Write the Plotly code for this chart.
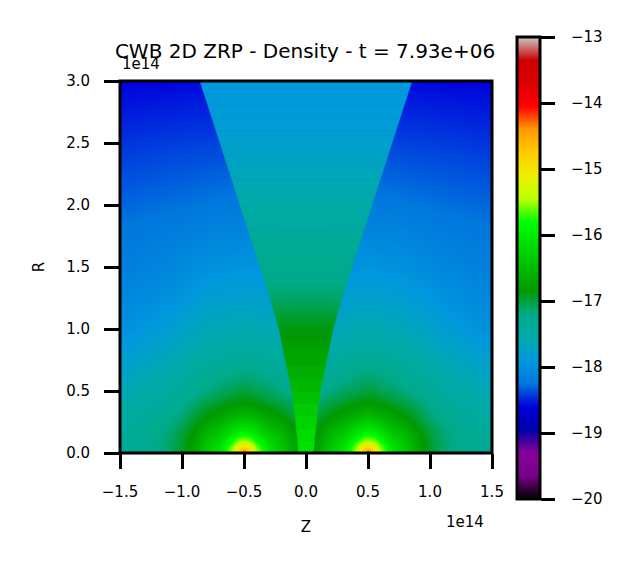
import plotly.graph_objects as go
from plotly.colors import sample_colorscale

z_right = [0, 0.1, 0.2, 0.3, 0.4, 0.45, 0.5, 0.55, 0.6, 0.7, 0.8, 0.9, 1.0, 1.1, 1.25, 1.5]
r_rows = [0, 0.05, 0.1, 0.15, 0.2, 0.3, 0.4, 0.5, 0.65, 0.8, 1.0, 1.25, 1.5, 2.0, 2.5, 3.0]

# wind field for Z >= 0, the left half of the picture is the mirror image
wind_rows = [
    [-16.95, -16.72, -16.35, -16.10, -15.45, -14.90, -14.00, -14.90, -15.45, -16.10, -16.35, -16.72, -16.95, -17.10, -17.25, -17.38],
    [-16.95, -16.73, -16.36, -16.13, -15.55, -15.15, -14.90, -15.15, -15.55, -16.13, -16.36, -16.73, -16.95, -17.10, -17.25, -17.38],
    [-16.97, -16.76, -16.42, -16.22, -15.80, -15.55, -15.45, -15.55, -15.80, -16.22, -16.42, -16.76, -16.97, -17.11, -17.26, -17.39],
    [-17.00, -16.80, -16.52, -16.36, -16.05, -15.90, -15.85, -15.90, -16.05, -16.36, -16.52, -16.80, -17.00, -17.13, -17.27, -17.40],
    [-17.04, -16.87, -16.63, -16.50, -16.22, -16.12, -16.10, -16.12, -16.22, -16.50, -16.63, -16.87, -17.04, -17.16, -17.29, -17.42],
    [-17.14, -17.00, -16.85, -16.75, -16.60, -16.55, -16.50, -16.55, -16.60, -16.75, -16.85, -17.00, -17.14, -17.24, -17.35, -17.48],
    [-17.25, -17.12, -17.02, -16.95, -16.88, -16.85, -16.83, -16.85, -16.88, -16.95, -17.02, -17.12, -17.25, -17.33, -17.43, -17.55],
    [-17.35, -17.25, -17.17, -17.10, -17.05, -17.02, -17.00, -17.02, -17.05, -17.10, -17.17, -17.25, -17.35, -17.42, -17.50, -17.62],
    [-17.48, -17.40, -17.33, -17.27, -17.22, -17.20, -17.20, -17.20, -17.22, -17.27, -17.33, -17.40, -17.48, -17.55, -17.62, -17.75],
    [-17.60, -17.53, -17.48, -17.44, -17.41, -17.40, -17.40, -17.40, -17.41, -17.44, -17.48, -17.53, -17.60, -17.67, -17.73, -17.85],
    [-17.75, -17.70, -17.65, -17.62, -17.59, -17.58, -17.58, -17.58, -17.59, -17.62, -17.65, -17.70, -17.75, -17.82, -17.88, -18.00],
    [-17.92, -17.87, -17.83, -17.80, -17.79, -17.78, -17.78, -17.78, -17.79, -17.80, -17.83, -17.87, -17.92, -17.97, -18.02, -18.10],
    [-18.06, -18.02, -17.99, -17.97, -17.96, -17.95, -17.95, -17.95, -17.96, -17.97, -17.99, -18.02, -18.06, -18.09, -18.12, -18.17],
    [-18.26, -18.25, -18.24, -18.23, -18.22, -18.22, -18.22, -18.22, -18.22, -18.23, -18.24, -18.25, -18.26, -18.27, -18.28, -18.30],
    [-18.42, -18.41, -18.41, -18.40, -18.40, -18.40, -18.40, -18.40, -18.40, -18.40, -18.41, -18.41, -18.42, -18.42, -18.43, -18.45],
    [-18.58, -18.58, -18.58, -18.58, -18.58, -18.58, -18.58, -18.58, -18.58, -18.58, -18.58, -18.58, -18.58, -18.59, -18.59, -18.60],
]

# shocked cone between the two winds: height, half width, log density
cone_r = [0, 0.1, 0.2, 0.3, 0.4, 0.5, 0.6, 0.7, 0.8, 0.85, 0.9, 0.95, 1.0, 1.05, 1.1, 1.15, 1.2, 1.25, 1.3, 1.35, 1.4, 1.45, 1.5,
          1.6, 1.7, 1.8, 1.9, 2.0, 2.1, 2.2, 2.3, 2.4, 2.5, 2.6, 2.7, 2.8, 2.9, 3.0]
cone_width = [0.06, 0.067, 0.078, 0.088, 0.10, 0.115, 0.135, 0.155, 0.178, 0.188, 0.197, 0.207, 0.218, 0.231, 0.245, 0.26, 0.275, 0.29, 0.305, 0.321, 0.338, 0.354, 0.37,
              0.402, 0.435, 0.467, 0.499, 0.532, 0.564, 0.596, 0.629, 0.661, 0.693, 0.726, 0.758, 0.79, 0.823, 0.855]
cone_rho = [-16.05, -16.12, -16.2, -16.3, -16.4, -16.5, -16.6, -16.68, -16.75, -16.78, -16.82, -16.85, -16.88, -16.92, -16.97, -17.02, -17.07, -17.11, -17.15, -17.18, -17.2, -17.23, -17.25,
            -17.3, -17.35, -17.4, -17.45, -17.5, -17.55, -17.62, -17.68, -17.74, -17.78, -17.82, -17.85, -17.87, -17.89, -17.91]

axis_ticks_z = [-1.5, -1.0, -0.5, 0.0, 0.5, 1.0, 1.5]
axis_ticks_r = [0.0, 0.5, 1.0, 1.5, 2.0, 2.5, 3.0]
bar_ticks = [-20, -19, -18, -17, -16, -15, -14, -13]

# same stops as nipy_spectral
spectral = [
    [0.00, "rgb(0,0,0)"], [0.05, "rgb(119,0,136)"], [0.10, "rgb(136,0,153)"],
    [0.15, "rgb(0,0,170)"], [0.20, "rgb(0,0,221)"], [0.25, "rgb(0,119,221)"],
    [0.30, "rgb(0,153,221)"], [0.35, "rgb(0,170,170)"], [0.40, "rgb(0,170,136)"],
    [0.45, "rgb(0,153,0)"], [0.50, "rgb(0,187,0)"], [0.55, "rgb(0,221,0)"],
    [0.60, "rgb(0,255,0)"], [0.65, "rgb(187,255,0)"], [0.70, "rgb(238,238,0)"],
    [0.75, "rgb(255,204,0)"], [0.80, "rgb(255,153,0)"], [0.85, "rgb(255,0,0)"],
    [0.90, "rgb(221,0,0)"], [0.95, "rgb(204,0,0)"], [1.00, "rgb(204,204,204)"],
]
rho_min, rho_max = -20, -13

FONT = "DejaVu Sans"
# the page body adds 8px on the left and top
PAGE_PAD = 8
WIDTH, HEIGHT = 624, 557
LEFT, RIGHT, TOP, BOTTOM = 112, 140, 73, 112
SIDE = 372
PLOT_X0, PLOT_Y1 = 120, 453
BAR_LEN = 462
BAR_MID = 268

z_all = [-v for v in z_right[:0:-1]] + z_right
wind = [row[:0:-1] + row for row in wind_rows]

fig = go.Figure()

fig.add_trace(go.Heatmap(
    x=z_all,
    y=r_rows,
    z=wind,
    zmin=rho_min,
    zmax=rho_max,
    zsmooth="best",
    colorscale=spectral,
    colorbar=dict(
        lenmode="pixels",
        len=BAR_LEN,
        thicknessmode="pixels",
        thickness=23,
        xpad=0,
        ypad=0,
        x=(517 - PLOT_X0) / SIDE,
        xanchor="left",
        y=(PLOT_Y1 - BAR_MID) / SIDE,
        yanchor="middle",
        outlinecolor="black",
        outlinewidth=3,
        tickmode="array",
        tickvals=bar_ticks,
        ticks="outside",
        ticklen=14,
        tickwidth=3,
        tickcolor="black",
        showticklabels=False,
    ),
))

# the cone has a sharp edge, so it goes on top as one band per height
for i in range(len(cone_r) - 1):
    level = (cone_rho[i] + cone_rho[i + 1]) / 2
    color = sample_colorscale(spectral, (level - rho_min) / (rho_max - rho_min))[0]
    fig.add_trace(go.Scatter(
        x=[-cone_width[i], cone_width[i], cone_width[i + 1], -cone_width[i + 1], -cone_width[i]],
        y=[cone_r[i], cone_r[i], cone_r[i + 1], cone_r[i + 1], cone_r[i]],
        mode="lines",
        fill="toself",
        fillcolor=color,
        line=dict(color=color, width=0.5),
        hoverinfo="skip",
        showlegend=False,
    ))

axis_style = dict(
    showgrid=False,
    zeroline=False,
    showline=False,
    ticks="outside",
    ticklen=15,
    tickwidth=3,
    tickcolor="black",
    tickfont=dict(family=FONT, size=15, color="black"),
    tickformat=".1f",
)
fig.update_xaxes(
    range=[-1.5, 1.5],
    tickmode="array",
    tickvals=axis_ticks_z,
    ticklabelstandoff=10,
    title=dict(text="Z", font=dict(family=FONT, size=15, color="black"), standoff=21),
    **axis_style,
)
fig.update_yaxes(
    range=[0, 3],
    tickmode="array",
    tickvals=axis_ticks_r,
    ticklabelstandoff=11,
    title=dict(text="R", font=dict(family=FONT, size=15, color="black"), standoff=17),
    **axis_style,
)

# frame as a shape so it sits centred on the plot edge like the reference
fig.add_shape(
    type="rect",
    xref="paper",
    yref="paper",
    x0=0,
    x1=1,
    y0=0,
    y1=1,
    line=dict(color="black", width=3),
    layer="above",
)

for text, x_px, y_px in [("1e14", 141, 64), ("1e14", 465, 522)]:
    fig.add_annotation(
        text=text,
        xref="paper",
        yref="paper",
        x=(x_px - PLOT_X0) / SIDE,
        y=(PLOT_Y1 - y_px) / SIDE,
        xanchor="center",
        yanchor="middle",
        showarrow=False,
        font=dict(family=FONT, size=15, color="black"),
    )

# colorbar labels sit further from the ticks than plotly allows, so they are annotations
for tick in bar_ticks:
    tick_px = BAR_MID - (tick - (rho_min + rho_max) / 2) * BAR_LEN / (rho_max - rho_min)
    fig.add_annotation(
        text=f"\u2212{abs(tick)}",
        xref="paper",
        yref="paper",
        x=(570 - PLOT_X0) / SIDE,
        y=(PLOT_Y1 - tick_px) / SIDE,
        xanchor="left",
        yanchor="middle",
        showarrow=False,
        borderpad=0,
        font=dict(family=FONT, size=15, color="black"),
    )

fig.update_layout(
    width=WIDTH,
    height=HEIGHT,
    margin=dict(l=LEFT, r=RIGHT, t=TOP, b=BOTTOM),
    paper_bgcolor="white",
    plot_bgcolor="white",
    showlegend=False,
    title=dict(
        text="CWB 2D ZRP - Density - t = 7.93e+06",
        font=dict(family=FONT, size=20, color="black"),
        x=(305 - PAGE_PAD) / WIDTH,
        xanchor="center",
        y=1 - (51 - PAGE_PAD) / HEIGHT,
        yanchor="middle",
    ),
)

fig.write_html("out.html")
